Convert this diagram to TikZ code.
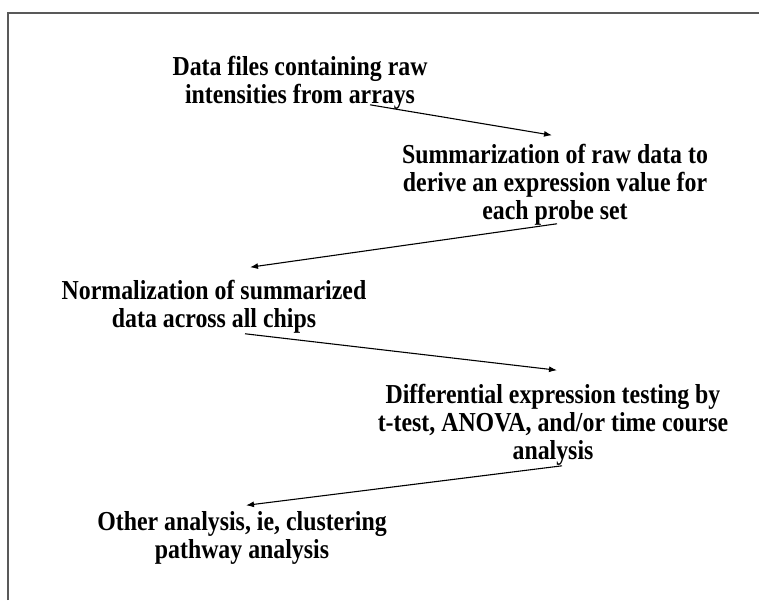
\documentclass[tikz,border=0pt]{standalone}
\usepackage{fontspec}
\setmainfont{Liberation Serif}
\newfontfamily\stagefont[FakeStretch = 0.87]{Liberation Serif}
\usetikzlibrary{arrows.meta}

\tikzset{
  stagebox/.style = {inner sep = 0pt, align = center,
    font = \stagefont\fontsize{27.4}{28}\selectfont\bfseries},
  flow/.style = {line width = 1.1pt, -{Latex[length = 8pt, width = 6pt]}}
}

\begin{document}
\begin{tikzpicture}[x = 1pt, y = -1pt]

    \useasboundingbox (0, 0) rectangle (759, 600);
    \draw[black!65, line width = 1.6pt] (8, 600) -- (8, 13) -- (759, 13);

    \node[stagebox] (data) at (300, 83) {Data files containing raw\\intensities from arrays};
    \node[stagebox] (summ) at (555, 185) {Summarization of raw data to\\derive an expression value for\\each probe set};
    \node[stagebox] (norm) at (214, 307) {Normalization of summarized\\data across all chips};
    \node[stagebox] (diff) at (553, 425) {Differential expression testing by\\t-test, ANOVA, and/or time course\\analysis};
    \node[stagebox] (other) at (242, 538) {Other analysis, ie, clustering\\pathway analysis};

    \draw[flow] ([xshift = 70pt, yshift = 5pt]data.south) -- ([xshift = -3pt, yshift = 9pt]summ.north);
    \draw[flow] ([xshift = 2pt, yshift = 2pt]summ.south) -- ([xshift = 36pt, yshift = 13pt]norm.north);
    \draw[flow] ([xshift = 31pt, yshift = 0pt]norm.south) -- ([xshift = 4pt, yshift = 14pt]diff.north);
    \draw[flow] ([xshift = 9pt, yshift = 0pt]diff.south) -- ([xshift = 4pt, yshift = 6pt]other.north);

  \end{tikzpicture}
\end{document}
